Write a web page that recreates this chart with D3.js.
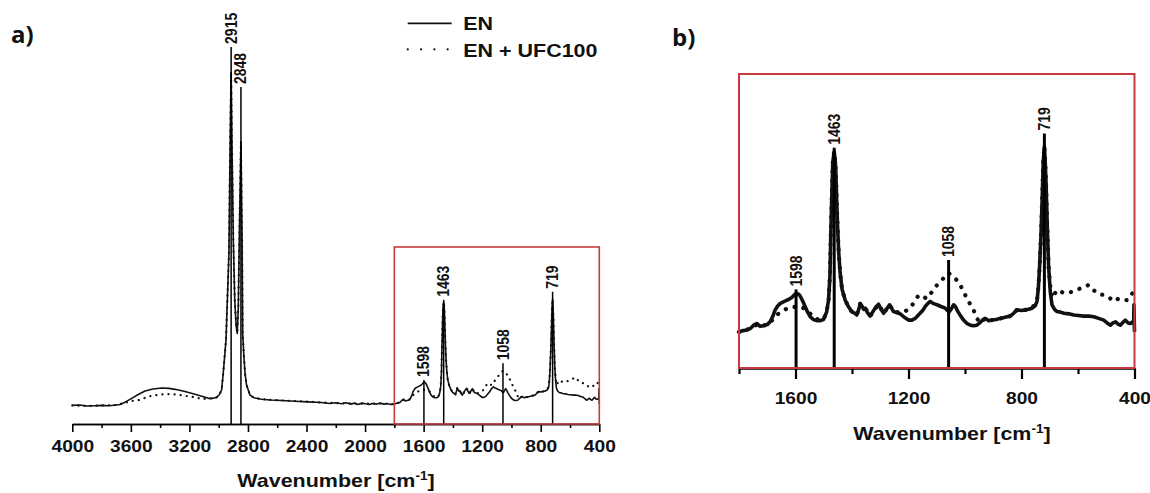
<!DOCTYPE html>
<html>
<head>
<meta charset="UTF-8">
<title>FTIR spectra: EN vs EN + UFC100</title>
<script src="https://d3js.org/d3.v7.min.js"></script>
<style>
body { margin: 0; background: #fff; }
svg text { font-family: "Liberation Sans", Arial, sans-serif; font-weight: bold; fill: #111; }
</style>
</head>
<body>
<svg id="chart" width="1150" height="493"></svg>
<script>

/* DATA (wavenumber in cm-1, intensity in arbitrary units) */

// EN spectrum (solid line)
var enWavenumber = [4000,3950,3900,3845,3800,3750,3700,3674,3640,3594,3550,3503,3450,3389,3340,3298,3230,3162,3110,3071,3040,3014,2995,2980,2969,2950,2930,2922,2915,2909,2900,2890,2880,2873,2866,2858,2848,2840,2836,2828,2820,2810,2798,2786,2760,2706,2650,2570,2480,2390,2300,2240,2200,2160,2130,2100,2070,2050,2020,2000,1970,1950,1920,1900,1870,1850,1825,
  1800,1790,1773,1760,1748,1737,1725,1714,1700,1690,1680,1672,1663,1655,1643,1631,1622,1613,1605,1598,1590,1584,1575,1566,1557,1548,1537,1525,1512,1501,1490,1483,1478,1475,1471,1468,1463,1459,1457,1454,1451,1447,1442,1435,1424,1413,1401,1390,1383,1376,1371,1365,1359,1353,1345,1336,1327,1318,1312,1306,1297,1288,1278,1267,1260,1253,1240,1229,1215,1200,1188,1176,1165,1153,1147,1141,1132,1123,1111,1099,1085,1070,1062,1055,1047,1040,1033,1025,1015,1005,993,981,970,958,948,938,928,916,905,890,875,858,840,828,816,800,786,775,763,752,745,740,736,731,727,723,719,716,713,709,704,698,692,683,674,662,650,632,615,598,580,562,544,527,509,497,485,476,467,458,450,441,432,423,414,406,403,402,400];
var enIntensity = [-0.004,-0.003,-0.006,-0.005,-0.004,-0.005,-0.003,-0.001,0.006,0.018,0.030,0.041,0.047,0.050,0.049,0.046,0.039,0.031,0.024,0.018,0.018,0.021,0.030,0.044,0.096,0.20,0.47,0.80,1.034,0.80,0.51,0.32,0.24,0.22,0.30,0.55,0.817,0.50,0.22,0.15,0.096,0.060,0.044,0.028,0.020,0.015,0.013,0.011,0.009,0.007,0.005,0.002,0.004,0.001,0.004,0.000,0.003,-0.001,0.003,0.001,-0.001,0.002,0.000,0.003,0.000,0.002,-0.001,
  0.000,0.002,0.0035,0.006,0.012,0.015,0.010,0.011,0.013,0.018,0.028,0.039,0.046,0.050,0.053,0.056,0.058,0.061,0.065,0.068,0.067,0.064,0.055,0.045,0.035,0.027,0.022,0.020,0.020,0.022,0.035,0.056,0.10,0.174,0.25,0.30,0.318,0.30,0.28,0.23,0.186,0.14,0.104,0.075,0.056,0.045,0.036,0.033,0.030,0.040,0.050,0.046,0.040,0.042,0.034,0.028,0.035,0.042,0.046,0.049,0.040,0.033,0.040,0.048,0.042,0.036,0.034,0.032,0.026,0.021,0.021,0.024,0.030,0.036,0.040,0.045,0.050,0.054,0.050,0.048,0.045,0.042,0.038,0.036,0.042,0.048,0.044,0.036,0.028,0.021,0.015,0.012,0.011,0.012,0.016,0.021,0.024,0.020,0.021,0.022,0.024,0.026,0.028,0.033,0.039,0.038,0.039,0.040,0.042,0.046,0.054,0.08,0.115,0.17,0.233,0.30,0.327,0.30,0.262,0.19,0.115,0.07,0.048,0.040,0.036,0.035,0.033,0.032,0.030,0.029,0.028,0.028,0.027,0.024,0.021,0.016,0.012,0.016,0.018,0.014,0.012,0.017,0.021,0.016,0.015,0.018,0.015,0.048,0.000];

// EN + UFC100 spectrum (dotted line)
var ufcWavenumber = [4000,3900,3800,3700,3640,3594,3549,3500,3458,3410,3367,3320,3276,3230,3184,3150,3116,3071,3040,3014,2995,2980,2969,2950,2930,2922,2915,2909,2900,2890,2880,2873,2866,2858,2848,2840,2836,2828,2820,2810,2798,2786,2760,2706,2600,2500,2400,2300,2200,2100,2000,1900,
  1800,1790,1760,1737,1714,1690,1672,1649,1628,1607,1590,1575,1560,1540,1520,1501,1490,1483,1478,1475,1471,1468,1463,1459,1457,1454,1451,1447,1442,1435,1424,1413,1401,1383,1371,1353,1336,1306,1288,1267,1253,1229,1212,1190,1164,1147,1135,1099,1058,1023,995,964,950,928,905,875,840,816,786,763,752,745,740,736,731,727,723,719,716,713,709,704,698,692,674,656,639,615,591,576,562,547,532,518,503,488,473,456,441,426,408,400];
var ufcIntensity = [-0.004,-0.006,-0.004,-0.003,0.004,0.010,0.012,0.020,0.026,0.029,0.031,0.031,0.029,0.026,0.023,0.020,0.016,0.017,0.018,0.021,0.030,0.044,0.096,0.20,0.47,0.80,1.034,0.80,0.51,0.32,0.24,0.22,0.30,0.55,0.817,0.50,0.22,0.15,0.096,0.060,0.044,0.028,0.020,0.015,0.012,0.010,0.008,0.005,0.003,0.002,0.001,0.002,
  0.000,0.002,0.006,0.013,0.011,0.016,0.028,0.036,0.042,0.044,0.045,0.043,0.039,0.028,0.022,0.022,0.035,0.056,0.10,0.174,0.25,0.30,0.318,0.30,0.28,0.23,0.186,0.14,0.104,0.075,0.056,0.045,0.036,0.030,0.050,0.042,0.028,0.049,0.033,0.048,0.036,0.034,0.036,0.045,0.065,0.062,0.059,0.083,0.104,0.089,0.061,0.033,0.016,0.024,0.021,0.024,0.028,0.039,0.039,0.042,0.050,0.056,0.08,0.115,0.17,0.233,0.30,0.327,0.30,0.262,0.19,0.115,0.08,0.060,0.074,0.070,0.068,0.072,0.077,0.080,0.083,0.075,0.068,0.066,0.065,0.060,0.054,0.059,0.057,0.056,0.068,0.070];

// assigned bands and the height their marker line reaches
var peakWavenumber = [2915, 2848, 1598, 1463, 1058, 719];
var peakMarkerTop = [1.113, 0.988, 0.075, 0.325, 0.127, 0.35];

// tick values
var ticksA = [4000, 3600, 3200, 2800, 2400, 2000, 1600, 1200, 800, 400];
var minorTicksA = [3800, 3400, 3000, 2600, 2200, 1800, 1400, 1000, 600];
var ticksB = [1600, 1200, 800, 400];
var minorTicksB = [1800, 1400, 1000, 600];

var seriesNames = ["EN", "EN + UFC100"];

/* BUILD */

var en = enWavenumber.map(function(w, i){ return {w: w, v: enIntensity[i]}; });
var ufc = ufcWavenumber.map(function(w, i){ return {w: w, v: ufcIntensity[i]}; });

var STRETCH = 1.13;  // the source figure is slightly stretched horizontally
var RED = "#c8393d";
var svg = d3.select("#chart");

function addText(g, x, y, txt, size, anchor, rotate) {
  return g.append("text")
    .attr("transform", "translate(" + x + "," + y + ") scale(" + STRETCH + ",1)" + (rotate ? " rotate(" + rotate + ")" : ""))
    .attr("text-anchor", anchor || "start")
    .style("font-size", size + "px")
    .text(txt);
}

function addTitle(g, x, y) {
  var t = g.append("text")
    .attr("transform", "translate(" + x + "," + y + ") scale(" + STRETCH + ",1)")
    .attr("text-anchor", "middle")
    .style("font-size", "19px");
  t.append("tspan").text("Wavenumber [cm");
  t.append("tspan").attr("dy", -7).style("font-size", "12px").text("-1");
  t.append("tspan").attr("dy", 7).text("]");
}

function drawPanel(cfg) {
  var g = svg.append("g");
  var x = d3.scaleLinear().domain(cfg.xDomain).range([cfg.left, cfg.right]);
  var y = d3.scaleLinear().domain(cfg.yDomain).range([cfg.bottom, cfg.top]);

  var inRange = function(d){ return d.w <= cfg.xDomain[0] && d.w >= cfg.xDomain[1]; };
  var line = d3.line().x(function(d){ return x(d.w); }).y(function(d){ return y(d.v); });

  // axis with major + minor ticks
  var major = d3.axisBottom(x).tickValues(cfg.ticks).tickFormat(d3.format("d"))
    .tickSize(cfg.majorTick).tickSizeOuter(0).tickPadding(cfg.pad);
  var minor = d3.axisBottom(x).tickValues(cfg.minorTicks).tickFormat("")
    .tickSize(cfg.minorTick).tickSizeOuter(0);

  var ax = g.append("g").attr("transform", "translate(0," + cfg.bottom + ")").call(major);
  var axm = g.append("g").attr("transform", "translate(0," + cfg.bottom + ")").call(minor);
  [ax, axm].forEach(function(a){
    a.select(".domain").attr("stroke", "#000").attr("stroke-width", cfg.axisWidth);
    a.selectAll(".tick line").attr("stroke", "#000").attr("stroke-width", cfg.axisWidth);
  });
  ax.selectAll(".tick text")
    .attr("fill", "#111")
    .attr("transform", "scale(" + STRETCH + ",1)")
    .style("font-family", "'Liberation Sans', Arial, sans-serif")
    .style("font-weight", "bold")
    .style("font-size", "17px");

  // spectra
  g.append("path").datum(ufc.filter(inRange))
    .attr("d", line).attr("fill", "none").attr("stroke", "#111")
    .attr("stroke-width", cfg.dotSize).attr("stroke-linecap", "round")
    .attr("stroke-dasharray", "0.1," + cfg.dotGap);
  g.append("path").datum(en.filter(inRange))
    .attr("d", line).attr("fill", "none").attr("stroke", "#111")
    .attr("stroke-width", cfg.lineWidth).attr("stroke-linejoin", "round");

  // band markers
  peakWavenumber.forEach(function(w, i){
    if (w > cfg.xDomain[0] || w < cfg.xDomain[1]) return;
    var px = x(w), top = y(peakMarkerTop[i]);
    g.append("line").attr("x1", px).attr("x2", px).attr("y1", cfg.bottom).attr("y2", top)
      .attr("stroke", "#000").attr("stroke-width", cfg.markerWidth);
    addText(g, px, top - 3, String(w), 14, "start", -90).attr("dy", "0.35em");
  });

  // zoom frame
  if (cfg.box) {
    g.append("rect")
      .attr("x", x(cfg.box[0])).attr("y", cfg.box[2])
      .attr("width", x(cfg.box[1]) - x(cfg.box[0]))
      .attr("height", cfg.bottom - cfg.box[2])
      .attr("fill", "none").attr("stroke", RED).attr("stroke-width", cfg.boxWidth);
  }

  addTitle(g, cfg.titleX, cfg.titleY);
  g.append("text").attr("x", cfg.letterX).attr("y", cfg.letterY)
    .style("font-family", "'Open Sans', sans-serif").style("font-weight", "bold")
    .style("font-size", "24px")
    .text(cfg.letter);
  return g;
}

// panel a: full range
var gA = drawPanel({
  xDomain: [4000, 400], yDomain: [-0.062, 1.2],
  left: 72.3, right: 599.3, top: 19, bottom: 424,
  ticks: ticksA, minorTicks: minorTicksA, majorTick: 8, minorTick: 4, pad: 8,
  axisWidth: 1.6, lineWidth: 1.6, dotSize: 2.2, dotGap: 6, markerWidth: 1.5,
  box: [1800, 400, 247], boxWidth: 1.6,
  titleX: 336, titleY: 487, letter: "a)", letterX: 11, letterY: 43
});

// panel b: 1800-400 zoom
var gB = drawPanel({
  xDomain: [1800, 400], yDomain: [-0.0635, 0.455],
  left: 739, right: 1134.5, top: 74, bottom: 368,
  ticks: ticksB, minorTicks: minorTicksB, majorTick: 11, minorTick: 6, pad: 13,
  axisWidth: 2.2, lineWidth: 3.6, dotSize: 4.2, dotGap: 9, markerWidth: 3,
  box: [1800, 400, 74], boxWidth: 2,
  titleX: 952, titleY: 440, letter: "b)", letterX: 672, letterY: 46
});

// legend
var legend = svg.append("g");
legend.append("line").attr("x1", 407.7).attr("x2", 451.7).attr("y1", 23.3).attr("y2", 23.3)
  .attr("stroke", "#111").attr("stroke-width", 1.8);
legend.append("line").attr("x1", 407.7).attr("x2", 448).attr("y1", 49.3).attr("y2", 49.3)
  .attr("stroke", "#111").attr("stroke-width", 2.2).attr("stroke-linecap", "round")
  .attr("stroke-dasharray", "0.1,13.2");
addText(legend, 463.3, 30, seriesNames[0], 19, "start");
addText(legend, 463.3, 56.5, seriesNames[1], 19, "start");

</script>
</body>
</html>
